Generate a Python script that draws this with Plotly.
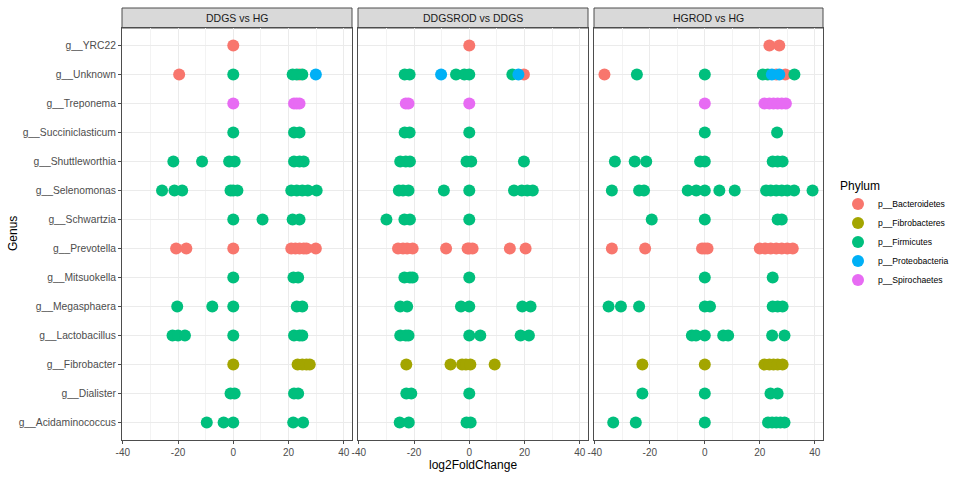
import plotly.graph_objects as go

genera = ["g__Acidaminococcus", "g__Dialister", "g__Fibrobacter", "g__Lactobacillus",
          "g__Megasphaera", "g__Mitsuokella", "g__Prevotella", "g__Schwartzia",
          "g__Selenomonas", "g__Shuttleworthia", "g__Succiniclasticum", "g__Treponema",
          "g__Unknown", "g__YRC22"]

phyla = ["p__Bacteroidetes", "p__Fibrobacteres", "p__Firmicutes", "p__Proteobacteria", "p__Spirochaetes"]
phylum_colors = ["#F8766D", "#A3A500", "#00BF7D", "#00B0F6", "#E76BF3"]

panels = ["DDGS vs HG", "DDGSROD vs DDGS", "HGROD vs HG"]

x_ticks = [-40, -20, 0, 20, 40]

# (genus, phylum, log2FoldChange values)
ddgs_vs_hg = [
    ("g__YRC22", "p__Bacteroidetes", [0]),
    ("g__Unknown", "p__Bacteroidetes", [-19.6, 24]),
    ("g__Unknown", "p__Firmicutes", [0, 21.5, 23, 25]),
    ("g__Unknown", "p__Proteobacteria", [29.9]),
    ("g__Treponema", "p__Spirochaetes", [0, 22, 23, 24]),
    ("g__Succiniclasticum", "p__Firmicutes", [0, 22, 24]),
    ("g__Shuttleworthia", "p__Firmicutes", [-21.7, -11.3, -1.5, 0.5, 22, 24, 25.5]),
    ("g__Selenomonas", "p__Firmicutes", [-25.8, -21.3, -18.5, -1, 0, 1.5, 21, 23, 25, 27, 30.2]),
    ("g__Schwartzia", "p__Firmicutes", [0, 10.6, 21.5, 24]),
    ("g__Prevotella", "p__Bacteroidetes", [-20.7, -17, 0, 21, 22.5, 24, 25.5, 26.5, 29.9]),
    ("g__Mitsuokella", "p__Firmicutes", [0, 21.8, 23.5]),
    ("g__Megasphaera", "p__Firmicutes", [-20.3, -7.6, 0, 23, 25]),
    ("g__Lactobacillus", "p__Firmicutes", [-22, -20, -17.5, 0, 22, 24, 25]),
    ("g__Fibrobacter", "p__Fibrobacteres", [0, 23.3, 25, 26.5, 27.7]),
    ("g__Dialister", "p__Firmicutes", [-1, 0.5, 22, 23.5]),
    ("g__Acidaminococcus", "p__Firmicutes", [-9.6, -3.5, 0, 21.7, 25.3]),
]

ddgsrod_vs_ddgs = [
    ("g__YRC22", "p__Bacteroidetes", [0]),
    ("g__Unknown", "p__Bacteroidetes", [19.8]),
    ("g__Unknown", "p__Firmicutes", [-23.4, -21.6, -4.8, -1.8, 0, 15.6]),
    ("g__Unknown", "p__Proteobacteria", [-10.2, 17.8]),
    ("g__Treponema", "p__Spirochaetes", [-23, -22, 0]),
    ("g__Succiniclasticum", "p__Firmicutes", [-23.4, -21.6, 0]),
    ("g__Shuttleworthia", "p__Firmicutes", [-25, -23, -21.5, -1, 0.7, 19.8]),
    ("g__Selenomonas", "p__Firmicutes", [-25.5, -24, -22, -9.2, 0, 16.2, 19, 21, 23]),
    ("g__Schwartzia", "p__Firmicutes", [-30, -23.5, -21.5, 0]),
    ("g__Prevotella", "p__Bacteroidetes", [-25.8, -24, -22.5, -20.5, -8.4, -0.6, 0, 1.2, 14.7, 20.4]),
    ("g__Mitsuokella", "p__Firmicutes", [-23.5, -21.5, -20.5, 0]),
    ("g__Megasphaera", "p__Firmicutes", [-25, -22.5, -3, 0, 19.2, 22.2]),
    ("g__Lactobacillus", "p__Firmicutes", [-25, -23, -22, 0, 4, 18.6, 21.6]),
    ("g__Fibrobacter", "p__Fibrobacteres", [-22.8, -6.8, -2.6, -1.2, 0.4, 9.2]),
    ("g__Dialister", "p__Firmicutes", [-22.8, -21, 0]),
    ("g__Acidaminococcus", "p__Firmicutes", [-25.2, -21.9, -1, 0.5]),
]

hgrod_vs_hg = [
    ("g__YRC22", "p__Bacteroidetes", [23.5, 27.1]),
    ("g__Unknown", "p__Bacteroidetes", [-36.5, 26, 29.3]),
    ("g__Unknown", "p__Firmicutes", [-24.7, 0, 21.1, 22.9, 32.6]),
    ("g__Unknown", "p__Proteobacteria", [24.4, 27.1]),
    ("g__Treponema", "p__Spirochaetes", [0, 21.7, 23.5, 25, 26.5, 28, 29.5]),
    ("g__Succiniclasticum", "p__Firmicutes", [0, 26.3]),
    ("g__Shuttleworthia", "p__Firmicutes", [-32.7, -25.5, -21.3, -1.7, 0, 24.7, 26.5, 28.3]),
    ("g__Selenomonas", "p__Firmicutes", [-33.8, -23.9, -22.1, -6.2, -3.1, 0, 5.3, 10.9,
                                         22.3, 24, 26, 28, 30, 32.5, 39.2]),
    ("g__Schwartzia", "p__Firmicutes", [-19.3, 0, 26.5, 28]),
    ("g__Prevotella", "p__Bacteroidetes", [-33.8, -21.7, -1, 0, 1, 20, 22, 24, 26, 28, 30, 32]),
    ("g__Mitsuokella", "p__Firmicutes", [0, 24.7]),
    ("g__Megasphaera", "p__Firmicutes", [-35, -30.5, -23.9, 0, 1.9, 24.7, 26.5, 28.3]),
    ("g__Lactobacillus", "p__Firmicutes", [-4.7, -3.2, 0, 6.7, 8.5, 24.5, 29]),
    ("g__Fibrobacter", "p__Fibrobacteres", [-22.7, 0, 21.7, 23.5, 25, 26.5, 28.3]),
    ("g__Dialister", "p__Firmicutes", [-22.7, 0, 23.9, 26.5]),
    ("g__Acidaminococcus", "p__Firmicutes", [-33.3, -25.1, 0, 23, 24.5, 26, 27.5, 29]),
]

panel_data = [ddgs_vs_hg, ddgsrod_vs_ddgs, hgrod_vs_hg]

W, H = 957, 477
ml, mr, mt, mb = 122, 134, 28, 37
pw = W - ml - mr
ph = H - mt - mb
panel_px = [(122, 352), (358, 588), (594, 823)]
domains = [[(a - ml) / pw, (b - ml) / pw] for a, b in panel_px]

FONT = "Liberation Sans, Arial, sans-serif"

fig = go.Figure()

for pi, data in enumerate(panel_data):
    xa = "x" if pi == 0 else f"x{pi + 1}"
    ya = "y" if pi == 0 else f"y{pi + 1}"
    for ph_name, col in zip(phyla, phylum_colors):
        xs, ys = [], []
        for g, p, vals in data:
            if p == ph_name:
                xs.extend(vals)
                ys.extend([g] * len(vals))
        fig.add_trace(go.Scatter(
            x=xs, y=ys, mode="markers", xaxis=xa, yaxis=ya,
            marker=dict(color=col, size=12, line=dict(width=0)),
            name=ph_name, legendgroup=ph_name, showlegend=(pi == 0),
        ))

axis_common = dict(
    range=[-40.3, 43.0], tickvals=x_ticks, ticktext=[str(v) for v in x_ticks],
    showgrid=True, gridcolor="#EBEBEB", gridwidth=1.1, zeroline=False,
    showline=True, mirror=True, linecolor="#4D4D4D", linewidth=1,
    ticks="outside", ticklen=3, tickcolor="#4D4D4D",
    tickfont=dict(family=FONT, size=10, color="#4D4D4D"),
    minor=dict(tickvals=[-30, -10, 10, 30], showgrid=True, gridcolor="#F3F3F3", gridwidth=0.6, ticks=""),
)
yaxis_common = dict(
    type="category", categoryorder="array", categoryarray=genera,
    range=[-0.6, len(genera) - 0.4],
    showgrid=True, gridcolor="#EBEBEB", gridwidth=1.1, zeroline=False,
    showline=True, mirror=True, linecolor="#4D4D4D", linewidth=1,
    tickcolor="#4D4D4D", ticklen=3,
    tickfont=dict(family=FONT, size=10.3, color="#4D4D4D"),
    domain=[0, 1],
)

for pi in range(3):
    xk = "xaxis" if pi == 0 else f"xaxis{pi + 1}"
    yk = "yaxis" if pi == 0 else f"yaxis{pi + 1}"
    ya_ref = "y" if pi == 0 else f"y{pi + 1}"
    xa_ref = "x" if pi == 0 else f"x{pi + 1}"
    fig.layout[xk] = dict(axis_common, domain=domains[pi], anchor=ya_ref)
    fig.layout[yk] = dict(yaxis_common, anchor=xa_ref, showticklabels=(pi == 0),
                          ticks="outside" if pi == 0 else "")

strip_h = 20 / ph
for pi, name in enumerate(panels):
    d0, d1 = domains[pi]
    fig.add_shape(type="rect", xref="paper", yref="paper", x0=d0, x1=d1, y0=1, y1=1 + strip_h,
                  fillcolor="#D9D9D9", line=dict(color="#4D4D4D", width=1), layer="below")
    fig.add_annotation(xref="paper", yref="paper", x=(d0 + d1) / 2, y=1 + strip_h / 2,
                       text=name, showarrow=False, xanchor="center", yanchor="middle",
                       font=dict(family=FONT, size=10.5, color="#1A1A1A"))

fig.add_annotation(xref="paper", yref="paper", x=(domains[1][0] + domains[1][1]) / 2, y=-25 / ph,
                   text="log2FoldChange", showarrow=False, xanchor="center", yanchor="middle",
                   font=dict(family=FONT, size=12, color="#000000"))
fig.add_annotation(xref="paper", yref="paper", x=-(122 - 13) / pw, y=0.5,
                   text="Genus", showarrow=False, textangle=-90, xanchor="center", yanchor="middle",
                   font=dict(family=FONT, size=12, color="#000000"))

fig.update_layout(
    width=W, height=H,
    margin=dict(l=ml, r=mr, t=mt, b=mb, autoexpand=False),
    paper_bgcolor="white", plot_bgcolor="white",
    showlegend=True,
    legend=dict(
        title=dict(text="Phylum", font=dict(family=FONT, size=12, color="#000000")),
        font=dict(family=FONT, size=8.6, color="#000000"),
        x=(954 - ml) / pw, y=(H - mb - 174) / ph, xanchor="right", yanchor="top",
        bgcolor="rgba(0,0,0,0)", itemsizing="constant", tracegroupgap=0,
    ),
)

fig.write_html("out.html", config={"displayModeBar": False},
               post_script="document.body.style.margin='0';document.body.style.overflow='hidden';")
